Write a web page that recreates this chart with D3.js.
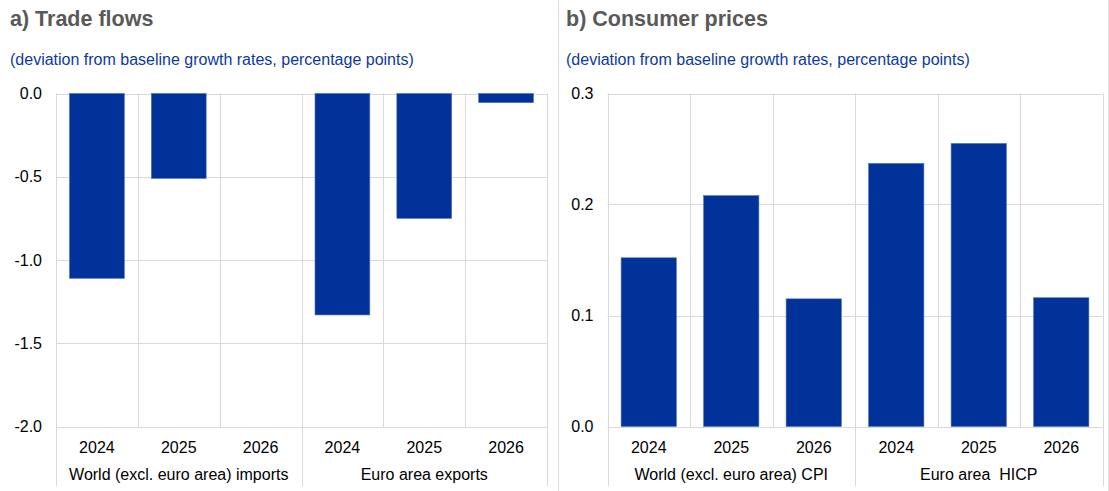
<!DOCTYPE html>
<html><head><meta charset="utf-8">
<script src="https://cdn.jsdelivr.net/npm/d3@7/dist/d3.min.js"></script>
<style>
html,body{margin:0;padding:0;background:#fff;}
svg{display:block;font-family:"Liberation Sans",Arial,sans-serif;}
</style></head>
<body>
<svg id="chart" width="1109" height="491"></svg>
<script>
// ---- data ----
const years = ["2024", "2025", "2026"];
const tradeGroups = ["World (excl. euro area) imports", "Euro area exports"];
const tradeValues = [-1.11, -0.51, 0, -1.33, -0.75, -0.055];
const tradeTicks = [0, -0.5, -1.0, -1.5, -2.0];
const priceGroups = ["World (excl. euro area) CPI", "Euro area  HICP"];
const priceValues = [0.152, 0.208, 0.115, 0.237, 0.255, 0.116];
const priceTicks = [0, 0.1, 0.2, 0.3];
const titles = ["a) Trade flows", "b) Consumer prices"];
const subtitle = "(deviation from baseline growth rates, percentage points)";

const svg = d3.select("#chart");
const BLUE = "#003299", GRID = "#d9d9d9";

const panels = [
  {title: titles[0], tx: 10, x0: 56, x1: 547, domain: [-2, 0], ticks: tradeTicks, values: tradeValues, groups: tradeGroups},
  {title: titles[1], tx: 566, x0: 607.5, x1: 1102.5, domain: [0, 0.3], ticks: priceTicks, values: priceValues, groups: priceGroups}
];
const yTop = 93.5, yBot = 426.5, yExt = 486;

// panel separators
svg.append("line").attr("x1", 558.5).attr("x2", 558.5).attr("y1", 0).attr("y2", 491)
  .attr("stroke", GRID).attr("stroke-width", 1);
svg.append("line").attr("x1", 1108.5).attr("x2", 1108.5).attr("y1", 0).attr("y2", 491)
  .attr("stroke", "#e6e6e6").attr("stroke-width", 1);

panels.forEach(p => {
  const g = svg.append("g");
  g.append("text").attr("x", p.tx).attr("y", 26).text(p.title)
    .attr("font-size", 21.5).attr("font-weight", "bold").attr("fill", "#595959");
  g.append("text").attr("x", p.tx).attr("y", 65).text(subtitle)
    .attr("font-size", 16).attr("fill", "#0d3a9e");

  const cats = d3.range(p.values.length);
  const x = d3.scaleBand().domain(cats).range([p.x0, p.x1]).padding(0);
  const y = d3.scaleLinear().domain(p.domain).range([yBot, yTop]);

  // gridlines
  g.selectAll(".grid").data(p.ticks).join("line")
    .attr("x1", p.x0).attr("x2", p.x1)
    .attr("y1", d => Math.round(y(d)) + 0.5).attr("y2", d => Math.round(y(d)) + 0.5)
    .attr("stroke", GRID).attr("stroke-width", 1);

  // vertical separators
  const bounds = d3.range(p.values.length + 1);
  g.selectAll(".vsep").data(bounds).join("line")
    .attr("x1", i => Math.round(p.x0 + i * x.step()) + 0.5)
    .attr("x2", i => Math.round(p.x0 + i * x.step()) + 0.5)
    .attr("y1", yTop)
    .attr("y2", i => (i % 3 === 0) ? yExt : yBot + 0.5)
    .attr("stroke", GRID).attr("stroke-width", 1);

  // bars
  const bw = x.bandwidth() * 0.67;
  g.selectAll(".bar").data(p.values.map((v, i) => ({v, i}))).join("rect")
    .attr("x", d => x(d.i) + (x.bandwidth() - bw) / 2)
    .attr("width", bw)
    .attr("y", d => Math.min(y(0), y(d.v)))
    .attr("height", d => Math.abs(y(d.v) - y(0)))
    .attr("fill", BLUE)
    .attr("stroke", "#4d6fbf").attr("stroke-width", 0.6);

  // y axis
  const ax = g.append("g").attr("transform", `translate(${p.x0},0)`)
    .call(d3.axisLeft(y).tickValues(p.ticks).tickSize(0).tickPadding(14)
      .tickFormat(d => d.toFixed(1)));
  ax.select(".domain").remove();
  ax.selectAll("text").attr("font-size", 16).attr("fill", "#000")
    .attr("font-family", "Liberation Sans, Arial, sans-serif");

  // year labels
  g.selectAll(".yr").data(cats).join("text")
    .attr("x", i => x(i) + x.bandwidth() / 2).attr("y", 453)
    .attr("text-anchor", "middle").attr("font-size", 16).attr("fill", "#000")
    .text(i => years[i % 3]);

  // group labels
  g.selectAll(".grp").data(p.groups).join("text")
    .attr("x", (d, j) => p.x0 + (j * 3 + 1.5) * x.step()).attr("y", 480)
    .attr("text-anchor", "middle").attr("font-size", 16).attr("fill", "#000")
    .style("white-space", "pre")
    .text(d => d);
});
</script>
</body></html>
